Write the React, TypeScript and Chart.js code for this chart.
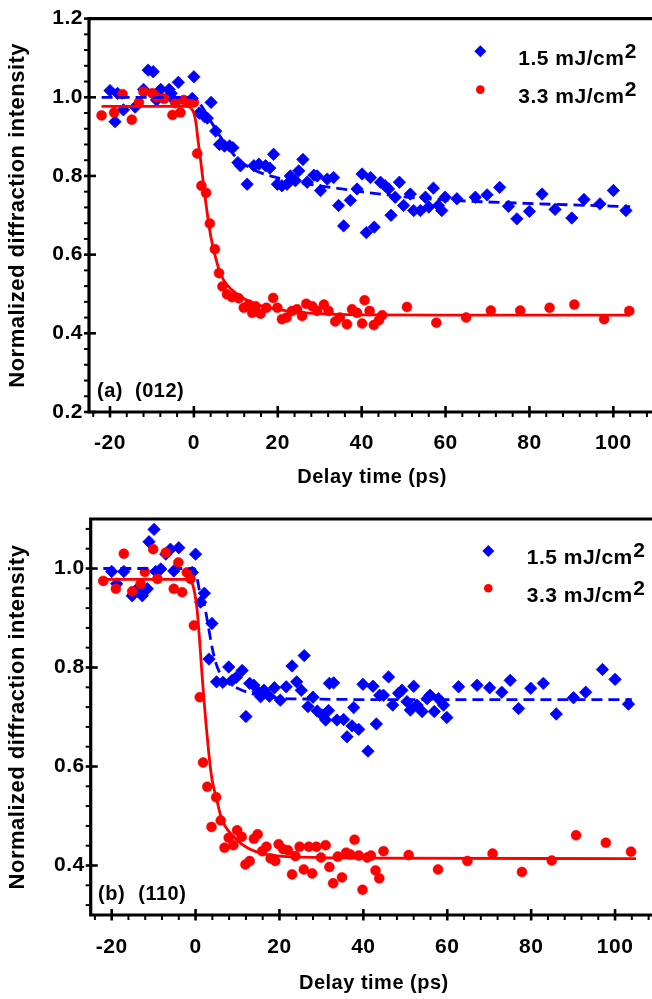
import React, { useEffect, useRef } from "react";
import { Chart, registerables } from "chart.js";

Chart.register(...registerables);

const FONT = "'Liberation Sans', Arial, Helvetica, sans-serif";
const BLUE = "#0000ff";
const RED = "#ff0000";

// ---------- tick labels ----------
const xMajorTicks = [-20, 0, 20, 40, 60, 80, 100];
const aYTicks = [0.2, 0.4, 0.6, 0.8, 1.0, 1.2];
const bYTicks = [0.4, 0.6, 0.8, 1.0];
const legendLabels = ["1.5 mJ/cm", "3.3 mJ/cm"];
const legendSup = "2";
const xTitle = "Delay time (ps)";
const yTitle = "Normalized diffraction intensity";

// ---------- panel (a) (012) ----------
const aBlueX = [-20.0, -18.8, -18.2, -16.8, -14.0, -12.0, -10.9, -9.7, -8.9, -7.9, -5.9, -5.4, -4.8, -3.7, -0.4, 0.0, 1.3, 2.5, 3.2, 4.1, 5.2, 6.1, 7.3, 8.5, 9.3, 10.5, 11.1, 12.7, 14.3, 15.5, 17.1, 18.1, 19.0, 19.9, 21.0, 22.2, 23.0, 24.2, 25.0, 26.0, 27.0, 28.6, 29.4, 30.2, 31.8, 33.3, 34.5, 35.7, 37.3, 38.9, 40.1, 41.1, 42.1, 43.0, 44.5, 45.6, 46.4, 47.0, 48.0, 49.0, 50.0, 51.6, 52.4, 54.0, 55.2, 56.0, 57.1, 58.3, 59.1, 59.9, 62.7, 67.1, 69.9, 72.9, 75.0, 77.0, 80.0, 83.0, 86.1, 90.1, 93.0, 96.8, 100.0, 103.0];
const aBlueY = [1.017, 0.938, 1.010, 0.968, 0.975, 1.020, 1.069, 1.065, 0.993, 1.020, 1.020, 1.010, 0.993, 1.038, 0.997, 1.052, 0.960, 0.951, 0.947, 0.987, 0.914, 0.880, 0.876, 0.876, 0.872, 0.834, 0.826, 0.779, 0.826, 0.830, 0.826, 0.820, 0.855, 0.779, 0.775, 0.779, 0.800, 0.788, 0.813, 0.842, 0.784, 0.802, 0.800, 0.763, 0.792, 0.796, 0.725, 0.673, 0.738, 0.767, 0.805, 0.656, 0.796, 0.670, 0.784, 0.775, 0.767, 0.700, 0.746, 0.784, 0.725, 0.754, 0.712, 0.712, 0.746, 0.721, 0.769, 0.725, 0.712, 0.746, 0.742, 0.746, 0.752, 0.771, 0.723, 0.691, 0.710, 0.754, 0.715, 0.693, 0.740, 0.729, 0.763, 0.712];

const aRedX = [-22.0, -19.0, -17.0, -14.8, -13.1, -12.0, -9.9, -8.9, -7.1, -5.1, -4.4, -3.2, -2.4, -1.2, 0.0, 0.8, 1.8, 2.9, 3.8, 5.0, 6.0, 6.8, 7.9, 9.1, 10.7, 11.9, 13.1, 13.9, 14.7, 15.9, 17.3, 18.9, 19.9, 21.0, 22.1, 23.4, 24.6, 25.8, 26.8, 28.2, 29.4, 31.0, 32.1, 33.7, 34.8, 36.5, 37.7, 38.9, 40.1, 40.7, 41.9, 42.9, 44.1, 44.9, 50.8, 57.8, 64.9, 70.8, 77.8, 84.8, 90.7, 97.8, 103.8];
const aRedY = [0.954, 0.961, 1.008, 0.943, 0.987, 1.014, 1.010, 1.000, 0.996, 0.955, 0.985, 0.961, 0.993, 0.987, 0.987, 0.857, 0.775, 0.757, 0.679, 0.614, 0.553, 0.519, 0.499, 0.492, 0.489, 0.465, 0.473, 0.452, 0.469, 0.450, 0.465, 0.490, 0.465, 0.436, 0.440, 0.457, 0.461, 0.444, 0.475, 0.469, 0.457, 0.473, 0.457, 0.430, 0.440, 0.423, 0.461, 0.452, 0.425, 0.484, 0.457, 0.421, 0.433, 0.446, 0.467, 0.427, 0.440, 0.458, 0.458, 0.465, 0.473, 0.436, 0.457];

const aBlueFitX = [-22, -1, 0, 1, 2, 3, 4, 5, 6, 8, 10, 12, 15, 20, 25, 30, 40, 50, 60, 80, 104];
const aBlueFitY = [1.0, 1.0, 0.998, 0.99, 0.975, 0.958, 0.94, 0.922, 0.905, 0.875, 0.848, 0.83, 0.812, 0.795, 0.783, 0.775, 0.76, 0.747, 0.739, 0.73, 0.722];

const aRedFitX = [-22, -2, -1, -0.5, 0, 0.5, 1, 1.5, 2, 2.5, 3, 4, 5, 6, 7, 8, 10, 12, 15, 20, 25, 30, 40, 60, 104];
const aRedFitY = [0.977, 0.977, 0.975, 0.97, 0.96, 0.935, 0.89, 0.85, 0.805, 0.76, 0.72, 0.648, 0.6, 0.562, 0.537, 0.522, 0.502, 0.488, 0.473, 0.461, 0.454, 0.45, 0.447, 0.446, 0.446];

// ---------- panel (b) (110) ----------
const bBlueX = [-20.0, -18.8, -17.1, -15.1, -13.9, -12.7, -11.5, -11.1, -9.9, -9.5, -8.3, -7.1, -6.0, -5.2, -4.0, -0.8, 0.0, 1.2, 2.1, 3.2, 3.9, 5.0, 6.5, 7.9, 8.7, 9.7, 11.1, 12.0, 12.9, 13.9, 14.9, 15.5, 16.3, 17.6, 18.8, 20.2, 21.6, 23.0, 24.1, 25.2, 25.9, 26.8, 28.0, 29.0, 30.2, 31.0, 31.7, 31.9, 32.9, 33.7, 35.3, 36.1, 37.3, 37.7, 38.9, 39.9, 41.1, 42.3, 43.1, 43.9, 44.8, 46.0, 47.0, 48.4, 49.2, 50.4, 51.2, 52.0, 52.8, 54.0, 55.2, 55.9, 56.9, 57.9, 59.1, 59.9, 62.7, 67.1, 70.1, 73.0, 75.0, 77.0, 79.9, 82.9, 86.0, 90.1, 93.0, 97.0, 100.0, 103.2];
const bBlueY = [0.994, 0.969, 0.994, 0.945, 0.959, 0.945, 0.959, 1.054, 1.079, 0.994, 0.999, 1.029, 1.039, 0.995, 1.042, 0.992, 1.029, 0.932, 0.950, 0.817, 0.889, 0.771, 0.770, 0.801, 0.774, 0.780, 0.794, 0.701, 0.768, 0.764, 0.751, 0.741, 0.754, 0.742, 0.759, 0.734, 0.761, 0.803, 0.771, 0.754, 0.824, 0.721, 0.740, 0.712, 0.704, 0.694, 0.713, 0.768, 0.769, 0.694, 0.695, 0.660, 0.682, 0.719, 0.675, 0.766, 0.631, 0.762, 0.686, 0.744, 0.744, 0.781, 0.724, 0.748, 0.754, 0.731, 0.714, 0.762, 0.724, 0.711, 0.737, 0.744, 0.711, 0.737, 0.724, 0.699, 0.761, 0.764, 0.759, 0.750, 0.774, 0.717, 0.758, 0.768, 0.706, 0.739, 0.750, 0.796, 0.776, 0.726];

const bRedX = [-22.0, -19.0, -17.1, -15.1, -13.1, -12.1, -10.1, -9.1, -7.1, -5.2, -4.1, -3.2, -2.1, -1.2, -0.4, 1.0, 1.8, 2.8, 3.8, 4.9, 6.0, 6.9, 7.9, 9.0, 9.9, 11.0, 11.9, 12.9, 13.9, 14.8, 15.9, 16.9, 17.9, 19.0, 19.8, 20.9, 22.0, 23.0, 23.8, 24.8, 25.8, 27.0, 27.8, 28.8, 29.9, 31.0, 31.9, 32.8, 33.9, 34.9, 35.9, 36.9, 37.9, 38.9, 39.8, 40.9, 41.8, 42.9, 43.8, 44.8, 50.8, 57.8, 64.8, 70.8, 77.8, 84.9, 90.7, 97.8, 103.8];
const bRedY = [0.975, 0.959, 1.030, 0.954, 0.969, 0.993, 1.039, 0.979, 1.032, 0.959, 1.012, 0.952, 0.992, 0.979, 0.885, 0.740, 0.608, 0.559, 0.478, 0.538, 0.491, 0.436, 0.456, 0.441, 0.471, 0.458, 0.402, 0.409, 0.454, 0.463, 0.429, 0.438, 0.414, 0.409, 0.443, 0.433, 0.431, 0.382, 0.419, 0.438, 0.392, 0.438, 0.384, 0.438, 0.416, 0.441, 0.397, 0.364, 0.418, 0.376, 0.426, 0.422, 0.452, 0.420, 0.351, 0.416, 0.420, 0.390, 0.374, 0.429, 0.421, 0.392, 0.409, 0.424, 0.387, 0.410, 0.461, 0.446, 0.428];

const bBlueFitX = [-22, -0.5, 0, 0.5, 1, 2, 3, 4, 5, 6, 7, 8, 10, 13, 16, 20, 30, 50, 104];
const bBlueFitY = [1.0, 1.0, 0.995, 0.975, 0.952, 0.93, 0.885, 0.838, 0.805, 0.786, 0.775, 0.767, 0.758, 0.748, 0.742, 0.738, 0.736, 0.735, 0.735];

const bRedFitX = [-22, -2.5, -1, 0, 0.5, 1, 1.5, 2, 2.5, 3, 3.5, 4, 5, 6, 7, 9, 11, 13, 16, 20, 25, 40, 105];
const bRedFitY = [0.978, 0.978, 0.973, 0.94, 0.905, 0.85, 0.79, 0.735, 0.685, 0.64, 0.6, 0.57, 0.535, 0.5, 0.48, 0.459, 0.443, 0.433, 0.424, 0.419, 0.417, 0.415, 0.414];

const CANVAS_W = 680;

const pts = (xs: number[], ys: number[]) =>
  xs.map((x, i) => ({ x, y: ys[i] })).filter((p) => p.y !== undefined);

type PanelCfg = {
  blueX: number[]; blueY: number[]; redX: number[]; redY: number[];
  blueFitX: number[]; blueFitY: number[]; redFitX: number[]; redFitY: number[];
  yMin: number; yMax: number; yTicks: number[];
  canvasTop: number; canvasH: number;
  padTop: number; padRight: number; yAxisW: number; xAxisH: number;
  xTickPad: number; xTitlePad: number;
  legend: { dx: number; dy: number; textDx: number; rowGap: number; baseOff: number };
  label: { a: string; b: string; dxA: number; dxB: number; up: number };
};

const panelA: PanelCfg = {
  blueX: aBlueX, blueY: aBlueY, redX: aRedX, redY: aRedY,
  blueFitX: aBlueFitX, blueFitY: aBlueFitY, redFitX: aRedFitX, redFitY: aRedFitY,
  yMin: 0.2, yMax: 1.2, yTicks: aYTicks,
  canvasTop: 0, canvasH: 500,
  padTop: 14, padRight: CANVAS_W - 655.3, yAxisW: 89, xAxisH: 88,
  xTickPad: 19, xTitlePad: 11,
  legend: { dx: 391.3, dy: 32.7, textDx: 429.3, rowGap: 38.3, baseOff: 13.3 },
  label: { a: "(a)", b: "(012)", dxA: 8, dxB: 46, up: 15.3 },
};

const panelB: PanelCfg = {
  blueX: bBlueX, blueY: bBlueY, redX: bRedX, redY: bRedY,
  blueFitX: bBlueFitX, blueFitY: bBlueFitY, redFitX: bRedFitX, redFitY: bRedFitY,
  yMin: 0.3, yMax: 1.1, yTicks: bYTicks,
  canvasTop: 500, canvasH: 499,
  padTop: 19, padRight: CANVAS_W - 657, yAxisW: 90.7, xAxisH: 84,
  xTickPad: 20, xTitlePad: 4,
  legend: { dx: 397.6, dy: 32, textDx: 436, rowGap: 37.3, baseOff: 13.2 },
  label: { a: "(b)", b: "(110)", dxA: 7.3, dxB: 47.6, up: 15 },
};

const diamond = (ctx: CanvasRenderingContext2D, x: number, y: number, r: number) => {
  ctx.beginPath();
  ctx.moveTo(x - r, y);
  ctx.lineTo(x, y - r);
  ctx.lineTo(x + r, y);
  ctx.lineTo(x, y + r);
  ctx.closePath();
  ctx.fill();
};

const framePlugin = {
  id: "frame",
  beforeDraw(chart: any) {
    (chart.ctx as any).letterSpacing = "0.5px";
  },
  afterDraw(chart: any, _args: any, opts: any) {
    const cfg: PanelCfg = opts.cfg;
    const { ctx, chartArea: ca } = chart;
    const xs = chart.scales.x;
    const ys = chart.scales.y;
    ctx.save();
    ctx.strokeStyle = "#000";
    ctx.fillStyle = "#000";
    ctx.lineCap = "butt";

    // minor ticks (x every 4, y every 0.04)
    ctx.lineWidth = 2;
    for (let k = -10; k <= 28; k++) {
      const v = k * 4;
      if (v % 20 === 0) continue;
      if (v <= xs.min || v >= xs.max) continue;
      const px = xs.getPixelForValue(v);
      ctx.beginPath();
      ctx.moveTo(px, ca.bottom);
      ctx.lineTo(px, ca.bottom + 5);
      ctx.stroke();
    }
    for (let k = 0; k <= 40; k++) {
      const v = k * 4;
      if (v % 20 === 0) continue;
      const val = v / 100;
      if (val <= ys.min + 1e-9 || val >= ys.max - 1e-9) continue;
      const py = ys.getPixelForValue(val);
      ctx.beginPath();
      ctx.moveTo(ca.left - 5, py);
      ctx.lineTo(ca.left, py);
      ctx.stroke();
    }
    // major ticks
    ctx.lineWidth = 2.6;
    xMajorTicks.forEach((v) => {
      const px = xs.getPixelForValue(v);
      ctx.beginPath();
      ctx.moveTo(px, ca.bottom - 6);
      ctx.lineTo(px, ca.bottom + 5.5);
      ctx.stroke();
    });
    cfg.yTicks.forEach((v) => {
      const py = ys.getPixelForValue(v);
      ctx.beginPath();
      ctx.moveTo(ca.left - 5, py);
      ctx.lineTo(ca.left + 7, py);
      ctx.stroke();
    });
    // axes / frame
    ctx.lineWidth = 3.2;
    ctx.beginPath();
    ctx.moveTo(ca.left, ca.top - 1.6);
    ctx.lineTo(ca.left, ca.bottom + 1.6);
    ctx.moveTo(ca.left - 1.6, ca.bottom);
    ctx.lineTo(ca.right + 1.6, ca.bottom);
    ctx.moveTo(ca.left - 1.6, ca.top);
    ctx.lineTo(ca.right + 1.6, ca.top);
    ctx.moveTo(ca.right, ca.top - 1.6);
    ctx.lineTo(ca.right, ca.bottom + 1.6);
    ctx.stroke();

    // legend
    const L = cfg.legend;
    ctx.textBaseline = "alphabetic";
    ctx.textAlign = "left";
    legendLabels.forEach((label, i) => {
      const cy = ca.top + L.dy + i * L.rowGap;
      const mx = ca.left + L.dx;
      if (i === 0) {
        ctx.fillStyle = BLUE;
        diamond(ctx, mx, cy, 6);
      } else {
        ctx.fillStyle = RED;
        ctx.beginPath();
        ctx.arc(mx, cy, 4.3, 0, Math.PI * 2);
        ctx.fill();
      }
      ctx.fillStyle = "#000";
      ctx.font = `bold 21px ${FONT}`;
      const tx = ca.left + L.textDx;
      const by = cy + L.baseOff;
      ctx.fillText(label, tx, by);
      const w = ctx.measureText(label).width;
      ctx.fillText(legendSup, tx + w + 0.5, by - 7);
    });

    // panel label
    ctx.font = `bold 20px ${FONT}`;
    ctx.fillText(cfg.label.a, ca.left + cfg.label.dxA, ca.bottom - cfg.label.up);
    ctx.fillText(cfg.label.b, ca.left + cfg.label.dxB, ca.bottom - cfg.label.up);
    ctx.restore();
  },
};

function makeConfig(cfg: PanelCfg): any {
  const tickFont = { family: FONT, size: 21, weight: "bold" as const };
  const xTitleFont = { family: FONT, size: 20, weight: "bold" as const };
  const yTitleFont = { family: FONT, size: 22, weight: "bold" as const };
  return {
    type: "scatter",
    data: {
      datasets: [
        {
          label: "blue",
          data: pts(cfg.blueX, cfg.blueY),
          pointStyle: "rectRot",
          pointRadius: 6.2,
          pointBackgroundColor: BLUE,
          pointBorderColor: BLUE,
          pointBorderWidth: 0.8,
          showLine: false,
          order: 4,
        },
        {
          label: "red",
          data: pts(cfg.redX, cfg.redY),
          pointStyle: "circle",
          pointRadius: 5,
          pointBackgroundColor: RED,
          pointBorderColor: RED,
          pointBorderWidth: 0.5,
          showLine: false,
          order: 3,
        },
        {
          label: "blueFit",
          data: pts(cfg.blueFitX, cfg.blueFitY),
          showLine: true,
          borderColor: BLUE,
          borderWidth: 2.8,
          borderDash: [11, 6],
          pointRadius: 0,
          cubicInterpolationMode: "monotone",
          fill: false,
          order: 2,
        },
        {
          label: "redFit",
          data: pts(cfg.redFitX, cfg.redFitY),
          showLine: true,
          borderColor: RED,
          borderWidth: 2.8,
          pointRadius: 0,
          cubicInterpolationMode: "monotone",
          fill: false,
          order: 1,
        },
      ],
    },
    options: {
      responsive: false,
      animation: false,
      events: [],
      layout: { padding: { top: cfg.padTop, right: cfg.padRight, bottom: 0, left: 0 } },
      plugins: {
        legend: { display: false },
        tooltip: { enabled: false },
        frame: { cfg },
      },
      scales: {
        x: {
          type: "linear",
          min: -25,
          max: 110,
          afterBuildTicks: (s: any) => {
            s.ticks = xMajorTicks.map((v) => ({ value: v }));
          },
          afterFit: (s: any) => {
            s.height = cfg.xAxisH;
          },
          grid: { display: false, drawTicks: false },
          border: { display: false },
          ticks: {
            color: "#000",
            font: tickFont,
            padding: cfg.xTickPad,
            maxRotation: 0,
            autoSkip: false,
            callback: (v: any) => String(v),
          },
          title: {
            display: true,
            text: xTitle,
            color: "#000",
            font: xTitleFont,
            padding: { top: 0, bottom: cfg.xTitlePad },
          },
        },
        y: {
          type: "linear",
          min: cfg.yMin,
          max: cfg.yMax,
          afterBuildTicks: (s: any) => {
            s.ticks = cfg.yTicks.map((v) => ({ value: v }));
          },
          afterFit: (s: any) => {
            s.width = cfg.yAxisW;
          },
          grid: { display: false, drawTicks: false },
          border: { display: false },
          ticks: {
            color: "#000",
            font: tickFont,
            padding: 6,
            autoSkip: false,
            callback: (v: any) => Number(v).toFixed(1),
          },
          title: {
            display: true,
            text: yTitle,
            color: "#000",
            font: yTitleFont,
            padding: { top: 5, bottom: 0 },
          },
        },
      },
    },
    plugins: [framePlugin],
  };
}

function Panel({ cfg }: { cfg: PanelCfg }) {
  const ref = useRef<HTMLCanvasElement | null>(null);
  useEffect(() => {
    if (!ref.current) return;
    const chart = new Chart(ref.current, makeConfig(cfg));
    return () => chart.destroy();
  }, [cfg]);
  return (
    <canvas
      ref={ref}
      width={CANVAS_W}
      height={cfg.canvasH}
      style={{ position: "absolute", left: 0, top: cfg.canvasTop, width: CANVAS_W, height: cfg.canvasH }}
    />
  );
}

export default function App() {
  return (
    <div
      style={{
        position: "absolute",
        left: 0,
        top: 0,
        width: 652,
        height: 999,
        overflow: "hidden",
        background: "#fff",
      }}
    >
      <Panel cfg={panelA} />
      <Panel cfg={panelB} />
    </div>
  );
}
